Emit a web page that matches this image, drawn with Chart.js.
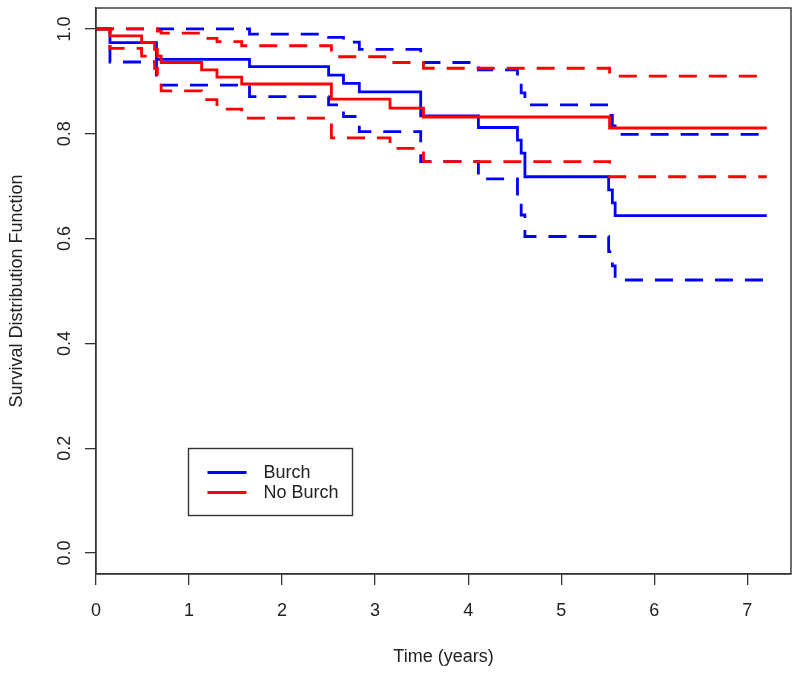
<!DOCTYPE html>
<html><head><meta charset="utf-8">
<script src="https://cdn.jsdelivr.net/npm/chart.js@4/dist/chart.umd.min.js"></script>
<style>html,body{margin:0;padding:0;background:#fff}</style>
</head><body>
<canvas id="c" width="800" height="673"></canvas>
<script>
// ---- data ----
const xTicks = [0, 1, 2, 3, 4, 5, 6, 7];
const yTicks = [0, 0.2, 0.4, 0.6, 0.8, 1.0];
const groupNames = ['Burch', 'No Burch'];

const burchTime  = [0, 0.15, 0.65, 1.65, 2.50, 2.66, 2.83, 3.49, 4.11, 4.53, 4.57, 4.61, 5.51, 5.55, 5.58, 7.21];
const burchSurv  = [1, 0.974, 0.942, 0.928, 0.912, 0.896, 0.880, 0.834, 0.812, 0.788, 0.763, 0.718, 0.693, 0.668, 0.644, 0.644];
const burchUpper = [1, 1, 1, 0.990, 0.984, 0.975, 0.961, 0.936, 0.922, 0.900, 0.878, 0.855, 0.835, 0.815, 0.799, 0.799];
const burchLower = [1, 0.937, 0.893, 0.871, 0.855, 0.833, 0.804, 0.747, 0.714, 0.680, 0.645, 0.604, 0.575, 0.548, 0.521, 0.521];

const noBurchTime  = [0, 0.15, 0.49, 0.63, 0.66, 0.70, 1.135, 1.30, 1.566, 2.53, 3.16, 3.52, 5.52, 7.21];
const noBurchSurv  = [1, 0.987, 0.974, 0.961, 0.948, 0.936, 0.922, 0.908, 0.895, 0.866, 0.849, 0.832, 0.811, 0.811];
const noBurchUpper = [1, 1, 1, 1, 0.996, 0.992, 0.982, 0.976, 0.968, 0.947, 0.936, 0.925, 0.910, 0.910];
const noBurchLower = [1, 0.963, 0.948, 0.925, 0.903, 0.882, 0.865, 0.847, 0.830, 0.792, 0.772, 0.747, 0.718, 0.718];

// ---- styles ----
const BLUE = '#0000ff', RED = '#ff0000';
const AXIS = '#333333', TXT = '#222222';
const FONT = '"Liberation Sans", Arial, Helvetica, sans-serif';
const LW = 2.8, DASH = [18, 12];

const pts = (t, v) => t.map((x, i) => ({x: x, y: v[i]}));
const ds = (t, v, col, dashed) => ({
  data: pts(t, v), borderColor: col, borderWidth: LW, stepped: 'before',
  borderDash: dashed ? DASH : [], pointRadius: 0, fill: false, showLine: true,
  borderCapStyle: 'butt', borderJoinStyle: 'miter'
});

const decor = {
  id: 'decor',
  afterDatasetsDraw(chart) {
    const {ctx, chartArea: a, scales: {x, y}} = chart;
    ctx.save();
    // plot box
    ctx.strokeStyle = AXIS; ctx.lineWidth = 1.4;
    ctx.strokeRect(a.left, a.top, a.right - a.left, a.bottom - a.top);
    // legend (anchored in data coordinates)
    const lx = Math.round(x.getPixelForValue(0.99)) + 0.5;
    const ly = Math.round(y.getPixelForValue(0.201)) + 0.5;
    ctx.fillStyle = '#fff';
    ctx.fillRect(lx, ly, 164, 67);
    ctx.strokeRect(lx, ly, 164, 67);
    const cols = [BLUE, RED];
    ctx.font = '18px ' + FONT; ctx.textBaseline = 'middle'; ctx.textAlign = 'left';
    groupNames.forEach((n, i) => {
      const yy = ly + 24 + i * 20;
      ctx.strokeStyle = cols[i]; ctx.lineWidth = LW;
      ctx.beginPath(); ctx.moveTo(lx + 19, yy); ctx.lineTo(lx + 58, yy); ctx.stroke();
      ctx.fillStyle = TXT; ctx.fillText(n, lx + 75, yy + 1);
    });
    ctx.restore();
  }
};

new Chart(document.getElementById('c'), {
  type: 'scatter',
  data: {
    datasets: [
      ds(noBurchTime, noBurchSurv, RED, false),
      ds(noBurchTime, noBurchUpper, RED, true),
      ds(noBurchTime, noBurchLower, RED, true),
      ds(burchTime, burchSurv, BLUE, false),
      ds(burchTime, burchUpper, BLUE, true),
      ds(burchTime, burchLower, BLUE, true)
    ]
  },
  options: {
    responsive: false, animation: false, devicePixelRatio: 1,
    layout: {padding: {top: 8, right: 9, left: 0, bottom: 0}},
    plugins: {legend: {display: false}, tooltip: {enabled: false}},
    scales: {
      x: {
        type: 'linear', min: 0, max: 7.47,
        afterBuildTicks: s => { s.ticks = xTicks.map(v => ({value: v})); },
        afterFit: s => { s.height = 99; s.paddingLeft = 0; s.paddingRight = 0; },
        grid: {display: true, drawOnChartArea: false, drawTicks: true, tickLength: 11, color: AXIS, lineWidth: 1.3},
        border: {display: true, color: AXIS, width: 1.3},
        ticks: {color: TXT, font: {family: FONT, size: 18}, padding: 15, maxRotation: 0, autoSkip: false,
                callback: v => String(v)},
        title: {display: true, text: 'Time (years)', color: TXT, font: {family: FONT, size: 18},
                padding: {top: 4, bottom: 5}}
      },
      y: {
        type: 'linear', min: -0.04, max: 1.04,
        afterBuildTicks: s => { s.ticks = yTicks.map(v => ({value: v})); },
        afterFit: s => { s.width = 96; s.paddingTop = 0; s.paddingBottom = 0; },
        grid: {display: true, drawOnChartArea: false, drawTicks: true, tickLength: 11, color: AXIS, lineWidth: 1.3},
        border: {display: true, color: AXIS, width: 1.3},
        ticks: {color: TXT, font: {family: FONT, size: 18}, padding: 7, minRotation: 90, maxRotation: 90,
                crossAlign: 'center', autoSkip: false, callback: v => Number(v).toFixed(1)},
        title: {display: true, text: 'Survival Distribution Function', color: TXT, font: {family: FONT, size: 18},
                padding: {top: 6, bottom: 4}}
      }
    }
  },
  plugins: [decor]
});
</script>
</body></html>
